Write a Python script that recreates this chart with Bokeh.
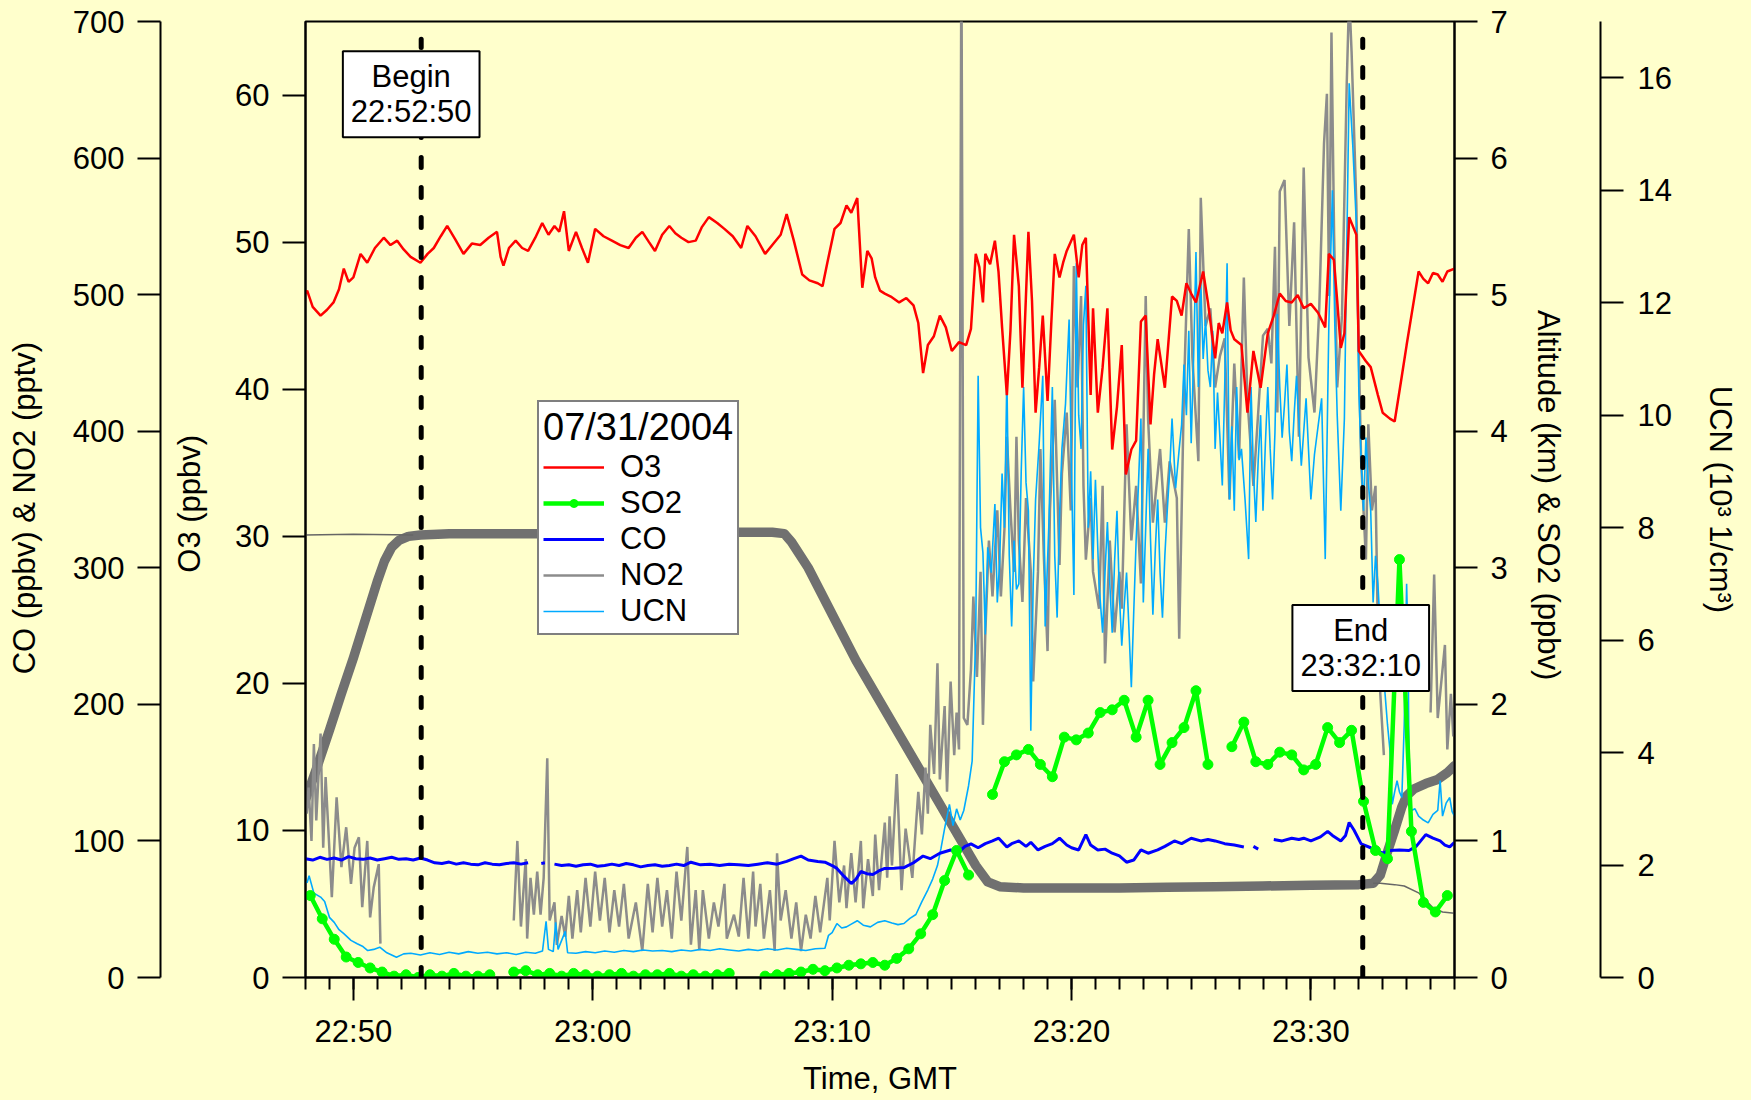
from datetime import datetime, timedelta
from bokeh.plotting import figure
from bokeh.models import (Range1d, LinearAxis, DatetimeAxis, FixedTicker, DatetimeTickFormatter,
                          Legend, LegendItem, Label)
from bokeh.embed import file_html
from bokeh.resources import INLINE

NaN = float("nan")

# ---------------- data ----------------
FLIGHT_DATE = "07/31/2004"
T_START = datetime(2004, 7, 31, 22, 48, 0)
T_END = datetime(2004, 7, 31, 23, 36, 0)
T_BEGIN = datetime(2004, 7, 31, 22, 52, 50)
T_FINISH = datetime(2004, 7, 31, 23, 32, 10)

x_tick_labels = ["22:50", "23:00", "23:10", "23:20", "23:30"]
o3_ticks = [0, 10, 20, 30, 40, 50, 60]
co_ticks = [0, 100, 200, 300, 400, 500, 600, 700]
alt_ticks = [0, 1, 2, 3, 4, 5, 6, 7]
ucn_ticks = [0, 2, 4, 6, 8, 10, 12, 14, 16]

# (minutes after 22:48:00 GMT, value)
o3_ppbv = [
    (0.0, 46.5), (0.07, 46.7), (0.3, 45.6), (0.63, 45.0), (0.9, 45.4), (1.17, 45.9), (1.4, 46.8),
    (1.6, 48.2), (1.8, 47.3), (2.0, 47.6), (2.3, 49.2), (2.58, 48.6), (2.9, 49.6), (3.27, 50.3),
    (3.55, 49.8), (3.83, 50.1), (4.1, 49.5), (4.39, 49.0), (4.8, 48.6), (5.1, 49.2), (5.36, 49.6),
    (5.65, 50.4), (5.92, 51.1), (6.25, 50.2), (6.6, 49.2), (6.95, 49.9), (7.3, 49.8), (7.65, 50.3),
    (8.0, 50.7), (8.15, 49.0), (8.27, 48.4), (8.5, 49.6), (8.78, 50.1), (9.05, 49.6), (9.3, 49.4),
    (9.6, 50.3), (9.89, 51.3), (10.15, 50.5), (10.4, 51.1), (10.6, 50.7), (10.8, 52.1), (11.0, 49.4),
    (11.3, 50.7), (11.55, 49.6), (11.8, 48.6), (12.1, 50.9), (12.45, 50.4), (12.8, 50.1), (13.15, 49.8),
    (13.5, 49.6), (13.8, 50.3), (14.07, 50.7), (14.35, 50.0), (14.6, 49.4), (14.9, 50.5), (15.2, 51.1),
    (15.45, 50.6), (15.7, 50.3), (16.0, 50.0), (16.3, 50.1), (16.55, 51.0), (16.85, 51.7), (17.2, 51.3),
    (17.5, 50.9), (17.85, 50.4), (18.2, 49.6), (18.46, 51.1), (18.8, 50.4), (19.2, 49.2), (19.5, 49.8),
    (19.85, 50.5), (20.1, 51.9), (20.4, 50.1), (20.75, 47.8), (21.05, 47.4), (21.4, 47.2), (21.6, 47.0),
    (21.8, 48.6), (22.1, 50.9), (22.35, 51.3), (22.6, 52.5), (22.8, 52.0), (23.05, 53.0), (23.26, 46.9),
    (23.47, 49.4), (23.65, 48.9), (23.8, 47.6), (24.0, 46.7), (24.2, 46.5), (24.45, 46.3), (24.8, 45.9),
    (25.1, 46.2), (25.4, 45.7), (25.6, 44.5), (25.8, 41.1), (26.0, 43.0), (26.25, 43.6), (26.5, 45.0),
    (26.75, 44.2), (27.0, 42.6), (27.3, 43.2), (27.6, 43.0), (27.8, 44.1), (28.0, 49.2), (28.15, 48.3),
    (28.3, 45.9), (28.4, 49.2), (28.6, 48.5), (28.8, 50.1), (28.95, 48.0), (29.1, 44.2), (29.3, 39.6),
    (29.45, 44.0), (29.6, 50.5), (29.8, 47.0), (29.95, 40.1), (30.2, 50.7), (30.35, 46.0), (30.5, 38.4),
    (30.65, 41.5), (30.8, 45.0), (31.0, 39.2), (31.15, 44.3), (31.3, 49.2), (31.5, 47.6), (31.65, 48.6),
    (31.8, 49.4), (32.1, 50.5), (32.3, 47.6), (32.45, 49.8), (32.6, 50.3), (32.8, 39.6), (32.9, 45.5),
    (33.1, 38.4), (33.3, 41.5), (33.5, 45.5), (33.7, 35.9), (33.9, 38.8), (34.1, 43.0), (34.27, 34.2),
    (34.5, 35.9), (34.7, 36.5), (34.9, 44.6), (35.1, 45.0), (35.3, 37.6), (35.45, 41.0), (35.6, 43.4),
    (35.9, 40.1), (36.2, 46.3), (36.4, 46.0), (36.6, 45.0), (36.8, 47.2), (37.0, 46.5), (37.2, 45.9),
    (37.5, 48.0), (37.7, 45.9), (38.0, 42.1), (38.15, 44.5), (38.3, 43.8), (38.5, 45.9), (38.65, 44.0),
    (38.8, 43.4), (39.1, 43.0), (39.35, 38.4), (39.6, 42.6), (39.9, 40.1), (40.2, 43.8), (40.45, 45.0),
    (40.7, 46.5), (40.95, 46.0), (41.2, 45.9), (41.45, 46.4), (41.7, 45.5), (42.0, 45.8), (42.3, 45.2),
    (42.6, 44.2), (42.75, 49.2), (42.96, 48.8), (43.1, 46.0), (43.25, 42.8), (43.4, 43.8), (43.6, 51.7),
    (43.9, 50.5), (44.0, 42.6), (44.3, 41.9), (44.5, 41.5), (44.8, 39.6), (45.0, 38.4), (45.3, 38.0),
    (45.5, 37.8), (45.8, 40.9), (46.0, 43.0), (46.2, 45.0), (46.5, 48.0), (46.7, 47.5), (46.9, 47.2),
    (47.1, 47.9), (47.3, 47.8), (47.5, 47.3), (47.7, 48.0), (48.0, 48.2),
]

so2_ppbv = [
    (0.2, 0.60), (0.7, 0.43), (1.2, 0.28), (1.7, 0.15), (2.2, 0.11), (2.7, 0.07), (3.2, 0.04),
    (3.7, 0.01), (4.2, 0.02), (4.7, 0.0), (5.2, 0.02), (5.7, 0.01), (6.2, 0.03), (6.7, 0.01),
    (7.2, 0.01), (7.7, 0.02), (8.2, NaN), (8.7, 0.04), (9.2, 0.05), (9.7, 0.02), (10.2, 0.03),
    (10.7, 0.01), (11.2, 0.03), (11.7, 0.02), (12.2, 0.01), (12.7, 0.02), (13.2, 0.03), (13.7, 0.01),
    (14.2, 0.02), (14.7, 0.02), (15.2, 0.03), (15.7, 0.01), (16.2, 0.02), (16.7, 0.01), (17.2, 0.02),
    (17.7, 0.03), (18.2, NaN), (18.7, NaN), (19.2, 0.01), (19.7, 0.02), (20.2, 0.03), (20.7, 0.04),
    (21.2, 0.06), (21.7, 0.05), (22.2, 0.07), (22.7, 0.09), (23.2, 0.10), (23.7, 0.11), (24.2, 0.09),
    (24.7, 0.14), (25.2, 0.21), (25.7, 0.32), (26.2, 0.46), (26.7, 0.71), (27.2, 0.93), (27.7, 0.75),
    (28.2, NaN), (28.7, 1.34), (29.2, 1.58), (29.7, 1.63), (30.2, 1.67), (30.7, 1.56), (31.2, 1.47),
    (31.7, 1.76), (32.2, 1.74), (32.7, 1.79), (33.2, 1.94), (33.7, 1.96), (34.2, 2.03), (34.7, 1.76),
    (35.2, 2.03), (35.7, 1.56), (36.2, 1.72), (36.7, 1.83), (37.2, 2.10), (37.7, 1.56), (38.2, NaN),
    (38.7, 1.69), (39.2, 1.87), (39.7, 1.58), (40.2, 1.56), (40.7, 1.65), (41.2, 1.63), (41.7, 1.52),
    (42.2, 1.56), (42.7, 1.83), (43.2, 1.72), (43.7, 1.81), (44.2, 1.29), (44.7, 0.93), (45.2, 0.87),
    (45.7, 3.06), (46.2, 1.07), (46.7, 0.55), (47.2, 0.48), (47.7, 0.60),
]

co_ppbv = [
    (0.0, 87), (0.3, 86), (0.6, 88), (0.9, 86.5), (1.2, 87.5), (1.5, 86), (1.8, 88.5), (2.1, 87),
    (2.4, 86.5), (2.7, 87.5), (3.0, 86), (3.3, 87), (3.6, 88), (3.9, 86.5), (4.2, 87), (4.5, 86),
    (4.8, 87.5), (5.1, 86), (5.4, 84), (5.7, 83.5), (6.0, 84.5), (6.3, 83), (6.6, 84), (6.9, 83),
    (7.2, 82.5), (7.5, 84), (7.8, 83), (8.1, 82.5), (8.4, 83.5), (8.7, 84), (9.0, 83), (9.3, 84),
    (9.45, NaN), (9.85, 83.5), (10.0, 84), (10.1, NaN), (10.4, 83), (10.7, 82), (11.0, 82.5),
    (11.3, 81.5), (11.6, 82.5), (11.9, 83), (12.2, 81.5), (12.5, 82), (12.8, 83), (13.1, 82),
    (13.4, 83.5), (13.7, 82.5), (14.0, 81), (14.3, 82), (14.6, 82.5), (14.9, 81.5), (15.2, 82),
    (15.5, 83), (15.8, 82), (16.1, 84.4), (16.5, 82.5), (16.9, 83), (17.3, 82), (17.7, 83),
    (18.1, 82.5), (18.5, 82), (18.9, 83), (19.3, 84), (19.7, 83), (20.1, 85), (20.4, 87),
    (20.7, 88.9), (21.0, 86), (21.4, 85), (21.7, 84.4), (22.0, 82), (22.2, 79.9), (22.5, 74),
    (22.8, 68.8), (23.0, 72), (23.2, 77.6), (23.45, 76), (23.7, 75.4), (23.95, 78), (24.2, 79.9),
    (24.6, 80), (25.0, 80.5), (25.4, 84), (25.8, 88.9), (26.1, 87), (26.5, 91), (26.95, 93.4),
    (27.3, 92), (27.55, 96), (27.8, 97.8), (28.1, 95), (28.4, 98), (28.7, 100), (28.96, 102),
    (29.3, 95.6), (29.5, 98), (29.8, 100), (30.1, 96), (30.3, 99), (30.6, 93.4), (30.9, 96),
    (31.2, 98), (31.5, 102), (31.8, 97), (32.0, 95), (32.3, 93.4), (32.6, 104.6), (32.8, 97),
    (33.1, 93.4), (33.4, 94), (33.7, 91), (34.0, 89), (34.3, 84.4), (34.6, 86), (34.9, 93.4),
    (35.2, 91), (35.6, 93.4), (35.9, 96), (36.3, 100), (36.6, 98), (37.0, 102), (37.4, 100),
    (37.7, 101), (38.0, 100), (38.4, 98), (38.8, 97), (39.2, 95.6), (39.35, NaN), (39.6, 96),
    (39.8, 94), (39.9, NaN), (40.45, 101), (40.8, 100), (41.2, 102), (41.5, 101), (41.7, 102),
    (42.0, 100), (42.4, 103), (42.7, 107), (42.9, 104), (43.25, 100), (43.45, 104), (43.6, 113.5),
    (43.8, 108), (44.1, 97.8), (44.5, 95), (45.0, 91), (45.3, 93), (45.7, 93.4), (46.1, 93),
    (46.4, 96), (46.8, 104.6), (47.1, 102), (47.4, 100), (47.6, 97), (47.8, 95.6), (48.0, 99),
]

no2_pptv = [
    (0.05, 120), (0.13, 139), (0.25, 100), (0.35, 171), (0.45, 115), (0.63, 178.6), (0.74, 95),
    (0.84, 146.7), (0.95, 110), (1.1, 58.8), (1.3, 132), (1.5, 80.8), (1.7, 110), (1.9, 68.6),
    (2.05, 95), (2.23, 102.7), (2.37, 51.5), (2.58, 100), (2.7, 44), (2.85, 66), (3.06, 83),
    (3.13, 24.8), (3.2, NaN),
    (8.7, 41.7), (8.85, 100), (9.0, 37.3), (9.2, 86.7), (9.26, 28.5), (9.4, 73), (9.54, 46),
    (9.68, 77.6), (9.82, 46), (9.95, 73), (10.1, 160.6), (10.2, 41.7), (10.4, 55), (10.5, 23.9),
    (10.7, 45), (10.85, 30), (11.0, 59.7), (11.15, 28.5), (11.35, 64), (11.5, 33), (11.7, 73),
    (11.9, 37.3), (12.1, 77.6), (12.3, 41.7), (12.5, 73), (12.7, 33), (12.9, 64), (13.1, 37.3),
    (13.3, 68.6), (13.5, 28.5), (13.8, 55), (14.07, 19.4), (14.3, 68.6), (14.5, 33), (14.7, 73),
    (14.9, 37.3), (15.1, 64), (15.3, 28.5), (15.5, 77.6), (15.7, 41.7), (15.95, 95.6), (16.1, 24),
    (16.3, 64), (16.45, 20), (16.6, 64), (16.85, 28.5), (17.06, 55), (17.25, 37.3), (17.5, 68.6),
    (17.6, 28.5), (17.9, 46), (18.1, 30), (18.3, 73), (18.5, 28.5), (18.7, 77.6), (18.8, 37.3),
    (19.0, 68.6), (19.15, 28.5), (19.4, 64), (19.6, 19.4), (19.7, 91), (19.85, 41.7), (20.06, 64),
    (20.3, 28.5), (20.5, 55), (20.7, 19.4), (20.9, 46), (21.1, 28.5), (21.3, 59.7), (21.5, 33),
    (21.8, 73), (21.9, 41.7), (22.1, 100), (22.3, 55), (22.5, 82), (22.6, 50.7), (22.8, 91),
    (22.98, 55), (23.2, 100), (23.3, 50.7), (23.5, 86.7), (23.7, 59.7), (23.8, 104.7), (23.96, 64),
    (24.2, 113.5), (24.3, 73), (24.4, 118), (24.5, 82), (24.7, 149), (24.9, 64), (25.07, 109),
    (25.35, 73), (25.6, 136), (25.75, 104.7), (25.9, 153.7), (26.0, 120), (26.1, 185), (26.26, 149),
    (26.4, 230), (26.5, 145), (26.7, 198.7), (26.8, 136), (26.95, 216.7), (27.1, 162.8), (27.2, 194),
    (27.3, 167), (27.4, 760), (27.5, 190), (27.65, 185), (27.8, 225.5), (27.9, 279), (28.05, 220),
    (28.2, 297), (28.3, 185), (28.4, 252.6), (28.55, 320), (28.7, 279), (28.9, 342), (29.05, 279),
    (29.2, 328.8), (29.3, 396), (29.45, 342), (29.6, 297), (29.7, 396), (29.8, 320), (29.95, 275),
    (30.1, 351), (30.3, 297), (30.4, 216.7), (30.6, 297), (30.7, 387), (30.85, 306), (31.0, 239),
    (31.1, 342), (31.3, 423), (31.5, 302), (31.6, 369), (31.8, 413.7), (31.97, 342), (32.1, 521),
    (32.25, 432), (32.4, 499), (32.5, 360), (32.6, 306), (32.8, 351), (32.9, 297), (33.15, 270),
    (33.3, 360), (33.4, 230), (33.6, 320), (33.8, 252.6), (34.0, 297), (34.1, 270), (34.3, 405),
    (34.5, 320), (34.7, 360), (34.9, 288.5), (35.1, 499), (35.2, 409), (35.4, 333), (35.7, 387),
    (35.9, 333), (36.1, 378), (36.4, 351), (36.5, 248), (36.7, 432), (36.9, 548), (37.05, 454),
    (37.3, 378), (37.4, 571), (37.6, 477), (37.8, 490), (38.0, 432), (38.2, 455), (38.4, 468),
    (38.6, 350), (38.8, 449.6), (39.0, 380), (39.2, 512.6), (39.35, 423), (39.6, 360), (39.8, 413.7),
    (40.0, 470), (40.2, 475), (40.35, 449.6), (40.5, 535), (40.6, 413.7), (40.7, 575.5), (40.9, 584),
    (41.1, 477), (41.3, 553), (41.5, 396), (41.7, 593), (41.9, 454), (42.15, 413.7), (42.35, 490),
    (42.55, 611), (42.67, 647), (42.76, 499), (42.86, 692), (42.97, 544), (43.1, 432), (43.3, 485),
    (43.5, 656), (43.6, 720), (43.7, 678), (43.9, 566), (44.0, 458.7), (44.1, 378), (44.3, 306),
    (44.4, 405), (44.55, 342), (44.7, 360), (44.8, 252.6), (44.9, 207.7), (45.05, 162.8), (45.2, NaN),
    (47.0, 194), (47.15, 295), (47.3, 190), (47.4, 207.7), (47.6, 243.5), (47.7, 167), (47.85, 207.7),
    (47.95, 176.5),
]

ucn_1e3_cm3 = [
    (0.0, 1.7), (0.07, 1.69), (0.15, 1.81), (0.35, 1.5), (0.63, 1.43), (0.8, 1.35), (1.0, 1.07),
    (1.2, 0.98), (1.4, 0.85), (1.6, 0.78), (1.9, 0.66), (2.16, 0.60), (2.4, 0.55), (2.6, 0.48),
    (2.85, 0.5), (3.1, 0.54), (3.4, 0.44), (3.8, 0.36), (4.1, 0.42), (4.4, 0.43), (4.8, 0.40),
    (5.2, 0.44), (5.6, 0.41), (6.0, 0.45), (6.4, 0.42), (6.8, 0.46), (7.2, 0.43), (7.6, 0.45),
    (8.0, 0.42), (8.4, 0.44), (8.8, 0.41), (9.2, 0.45), (9.6, 0.43), (9.9, 0.47), (10.05, 1.0),
    (10.15, 0.5), (10.35, 0.46), (10.45, 0.98), (10.55, 0.5), (10.85, 0.82), (10.95, 0.44),
    (11.3, 0.43), (11.7, 0.46), (12.1, 0.44), (12.5, 0.47), (12.9, 0.45), (13.3, 0.48), (13.7, 0.46),
    (14.1, 0.49), (14.5, 0.47), (14.9, 0.48), (15.3, 0.46), (15.7, 0.49), (16.1, 0.47), (16.5, 0.50),
    (16.9, 0.48), (17.3, 0.51), (17.7, 0.49), (18.1, 0.47), (18.5, 0.50), (18.9, 0.48), (19.3, 0.51),
    (19.7, 0.49), (20.1, 0.52), (20.5, 0.50), (20.9, 0.48), (21.3, 0.51), (21.7, 0.52), (21.85, 0.75),
    (22.0, 0.80), (22.2, 0.96), (22.4, 0.88), (22.6, 0.9), (22.8, 0.95), (23.05, 1.01), (23.3, 0.93),
    (23.6, 0.9), (23.9, 0.98), (24.2, 1.01), (24.5, 0.97), (24.75, 0.94), (25.0, 0.96), (25.25, 1.05),
    (25.5, 1.12), (25.75, 1.35), (26.0, 1.56), (26.2, 1.75), (26.4, 1.99), (26.55, 2.3), (26.7, 2.65),
    (26.9, 3.08), (27.05, 2.7), (27.2, 3.0), (27.35, 2.8), (27.5, 2.97), (27.7, 3.41), (27.85, 3.85),
    (28.0, 6.13), (28.1, 10.7), (28.2, 8.0), (28.3, 7.55), (28.4, 6.1), (28.5, 7.65), (28.65, 7.2),
    (28.8, 8.42), (28.9, 6.67), (29.0, 7.4), (29.1, 8.96), (29.2, 8.0), (29.3, 10.7), (29.4, 7.5),
    (29.5, 6.24), (29.6, 7.77), (29.7, 6.9), (29.8, 7.0), (29.9, 9.0), (30.0, 10.5), (30.1, 8.8),
    (30.2, 8.3), (30.3, 4.39), (30.4, 7.0), (30.5, 8.5), (30.65, 9.5), (30.8, 10.7), (30.9, 6.24),
    (31.05, 8.0), (31.2, 10.5), (31.3, 7.5), (31.4, 6.4), (31.5, 8.2), (31.6, 9.4), (31.75, 10.2),
    (31.9, 11.7), (32.0, 9.0), (32.1, 6.8), (32.2, 12.7), (32.3, 10.0), (32.4, 9.4), (32.5, 11.6),
    (32.6, 12.3), (32.7, 8.0), (32.8, 9.0), (32.9, 7.44), (33.0, 8.85), (33.15, 7.0), (33.3, 6.13),
    (33.4, 7.2), (33.5, 8.1), (33.6, 7.0), (33.7, 6.13), (33.8, 7.4), (33.9, 8.3), (34.0, 6.8),
    (34.1, 5.9), (34.2, 6.6), (34.3, 7.2), (34.4, 6.2), (34.5, 5.16), (34.6, 6.5), (34.7, 7.77),
    (34.8, 8.8), (34.9, 9.94), (35.0, 6.67), (35.1, 8.0), (35.2, 9.4), (35.3, 7.8), (35.4, 6.45),
    (35.5, 7.6), (35.6, 8.5), (35.7, 7.2), (35.8, 6.4), (35.9, 7.5), (36.0, 8.3), (36.1, 9.0),
    (36.2, 9.94), (36.35, 8.7), (36.5, 9.4), (36.6, 9.83), (36.7, 10.9), (36.8, 10.0), (36.9, 11.5),
    (37.0, 9.5), (37.1, 11.0), (37.2, 12.9), (37.3, 10.5), (37.4, 12.4), (37.5, 11.0), (37.6, 11.7),
    (37.7, 10.8), (37.8, 10.5), (37.9, 11.5), (38.0, 9.4), (38.1, 10.4), (38.2, 9.6), (38.3, 8.75),
    (38.4, 10.5), (38.5, 12.7), (38.6, 8.5), (38.7, 9.8), (38.8, 8.3), (38.9, 10.5), (39.0, 9.2),
    (39.1, 9.4), (39.25, 8.5), (39.4, 7.44), (39.5, 10.5), (39.6, 9.0), (39.7, 8.1), (39.8, 9.2),
    (39.9, 10.0), (40.0, 8.3), (40.1, 9.5), (40.2, 10.5), (40.3, 9.4), (40.4, 8.5), (40.5, 9.7),
    (40.6, 11.8), (40.7, 10.5), (40.8, 9.6), (40.9, 10.2), (41.0, 10.9), (41.1, 9.7), (41.2, 9.18),
    (41.3, 10.0), (41.4, 10.7), (41.5, 9.9), (41.6, 9.1), (41.7, 9.7), (41.8, 10.3), (41.9, 9.4),
    (42.0, 8.5), (42.15, 9.3), (42.3, 9.8), (42.45, 10.3), (42.6, 7.44), (42.75, 11.6), (42.9, 14.0),
    (43.0, 11.6), (43.1, 10.0), (43.25, 8.3), (43.4, 9.94), (43.5, 13.0), (43.6, 15.9), (43.75, 14.8),
    (43.9, 13.4), (44.0, 10.5), (44.1, 9.2), (44.2, 8.3), (44.3, 9.6), (44.4, 8.8), (44.5, 8.3),
    (44.6, 6.67), (44.7, 7.5), (44.8, 7.0), (44.9, 6.2), (45.0, 5.6), (45.1, 5.04), (45.2, 4.5),
    (45.3, 4.06), (45.4, 3.08), (45.5, 3.3), (45.6, 3.5), (45.7, 3.3), (45.8, 3.2), (45.9, 4.5),
    (46.0, 7.0), (46.05, 6.1), (46.1, 4.0), (46.2, 2.97), (46.35, 3.0), (46.5, 2.87), (46.7, 2.8),
    (46.9, 2.75), (47.1, 2.9), (47.3, 2.97), (47.4, 3.5), (47.5, 2.87), (47.65, 3.1), (47.8, 3.2),
    (47.9, 2.95), (48.0, 2.87),
]

altitude_km = [
    (0.0, 1.30), (0.5, 1.55), (1.0, 1.81), (1.5, 2.08), (2.0, 2.34), (2.5, 2.62), (3.0, 2.90),
    (3.3, 3.05), (3.6, 3.15), (3.9, 3.20), (4.3, 3.23), (4.8, 3.24), (6.0, 3.25), (8.0, 3.25),
    (10.0, 3.25), (12.0, 3.25), (14.0, 3.26), (16.0, 3.26), (18.0, 3.26), (19.5, 3.26), (20.0, 3.25),
    (20.3, 3.19), (21.0, 3.0), (22.0, 2.66), (23.0, 2.32), (24.0, 2.02), (25.0, 1.72), (26.0, 1.42),
    (27.0, 1.12), (28.0, 0.82), (28.5, 0.70), (29.0, 0.665), (30.0, 0.655), (32.0, 0.655),
    (34.0, 0.655), (36.0, 0.66), (38.0, 0.665), (40.0, 0.67), (42.0, 0.675), (44.0, 0.68),
    (44.6, 0.69), (44.9, 0.75), (45.2, 0.92), (45.5, 1.08), (45.8, 1.25), (46.0, 1.33), (46.3, 1.38),
    (46.8, 1.42), (47.3, 1.45), (47.7, 1.50), (48.0, 1.55),
]

altitude2_km = [
    (0.0, 3.24), (2.0, 3.245), (4.5, 3.24), (4.6, NaN),
    (44.6, 0.69), (44.9, 0.69), (45.5, 0.68), (45.9, 0.67), (46.5, 0.62), (47.1, 0.51),
    (47.5, 0.48), (48.0, 0.47),
]

# ---------------- helpers ----------------
FONT = "Liberation Sans"
FS = "31px"
BG = "#FFFFCC"
EPOCH = datetime(1970, 1, 1)


def ms(dt):
    return (dt - EPOCH).total_seconds() * 1000.0


def series(pairs):
    xs = [T_START + timedelta(minutes=m) for m, _ in pairs]
    ys = [v for _, v in pairs]
    return xs, ys


def style_axis(ax, ticks, label, label_standoff, tick_standoff=13):
    ax.ticker = FixedTicker(ticks=ticks)
    ax.axis_label = label
    ax.axis_label_text_font = FONT
    ax.axis_label_text_font_size = FS
    ax.axis_label_text_font_style = "normal"
    ax.axis_label_text_color = "black"
    ax.axis_label_standoff = label_standoff
    ax.major_label_text_font = FONT
    ax.major_label_text_font_size = FS
    ax.major_label_text_color = "black"
    ax.major_label_standoff = tick_standoff
    ax.major_tick_out = 23
    ax.major_tick_in = 0
    ax.minor_tick_out = 0
    ax.minor_tick_in = 0
    ax.axis_line_color = "black"
    ax.axis_line_width = 2
    ax.major_tick_line_color = "black"
    ax.major_tick_line_width = 2


def spacer(range_name, gap):
    # invisible axis that only reserves horizontal room between two real axes
    return LinearAxis(y_range_name=range_name, ticker=FixedTicker(ticks=[0]),
                      major_label_overrides={0: ""},
                      major_tick_out=gap, major_tick_in=0, minor_tick_out=0, minor_tick_in=0,
                      axis_line_color=None, major_tick_line_color=BG, minor_tick_line_color=None,
                      major_label_standoff=0, major_label_text_font_size="1px",
                      major_label_text_color=BG)


# ---------------- figure ----------------
p = figure(width=1749, height=1098, x_axis_type="datetime",
           x_range=Range1d(T_START, T_END), y_range=Range1d(0, 65),
           output_backend="svg", toolbar_location=None,
           min_border_left=305, min_border_right=295, min_border_top=21, min_border_bottom=121)
p.extra_y_ranges = {"co": Range1d(0, 700), "alt": Range1d(0, 7), "ucn": Range1d(0, 17)}
p.grid.visible = False
p.background_fill_color = BG
p.border_fill_color = BG
p.outline_line_color = "black"
p.outline_line_width = 2

# x axis
xa = p.xaxis[0]
major_x = [ms(datetime.strptime("2004-07-31 " + s, "%Y-%m-%d %H:%M")) for s in x_tick_labels]
minor_x = [ms(T_START + timedelta(minutes=i)) for i in range(49)]
five_x = [ms(T_START + timedelta(minutes=i)) for i in range(2, 49, 5)]
style_axis(xa, major_x, "Time, GMT", 9, tick_standoff=13)
xa.ticker = FixedTicker(ticks=major_x, minor_ticks=minor_x)
xa.formatter = DatetimeTickFormatter(minutes="%H:%M", hourmin="%H:%M", hours="%H:%M",
                                     minsec="%H:%M", seconds="%H:%M")
xa.minor_tick_out = 12
xa.minor_tick_line_color = "black"
xa.minor_tick_line_width = 2

# medium ticks every 5 minutes, drawn at the bottom edge of the frame
mid_axis = DatetimeAxis(fixed_location=0, ticker=FixedTicker(ticks=five_x),
                        major_tick_out=18, major_tick_in=0, minor_tick_out=0, minor_tick_in=0,
                        major_tick_line_color="black", major_tick_line_width=2,
                        axis_line_color=None, major_label_text_color=None)
p.add_layout(mid_axis, "below")

# O3 (left, next to frame)
o3_axis = p.yaxis[0]
style_axis(o3_axis, o3_ticks, "O3  (ppbv)", 25)

p.add_layout(spacer("co", 9), "left")
co_axis = LinearAxis(y_range_name="co")
style_axis(co_axis, co_ticks, "CO  (ppbv) & NO2  (pptv)", 28)
p.add_layout(co_axis, "left")

alt_axis = LinearAxis(y_range_name="alt")
style_axis(alt_axis, alt_ticks, "Altitude  (km) & SO2 (ppbv)", 20)
p.add_layout(alt_axis, "right")
p.add_layout(spacer("alt", 32), "right")
ucn_axis = LinearAxis(y_range_name="ucn")
style_axis(ucn_axis, ucn_ticks, "UCN (10\u00b3 1/cm\u00b3)", 28, tick_standoff=14)
p.add_layout(ucn_axis, "right")

# ---------------- series ----------------
ax_, ay_ = series(altitude_km)
r_alt = p.line(ax_, ay_, y_range_name="alt", line_color="#707070", line_width=9.5,
               line_join="round", line_cap="round")
a2x, a2y = series(altitude2_km)
p.line(a2x, a2y, y_range_name="alt", line_color="#666666", line_width=1.5)

nx, ny = series(no2_pptv)
r_no2 = p.line(nx, ny, y_range_name="co", line_color="#8C8C8C", line_width=2.5)

ux, uy = series(ucn_1e3_cm3)
r_ucn = p.line(ux, uy, y_range_name="ucn", line_color="#00AAFF", line_width=1.6)

cx, cy = series(co_ppbv)
r_co = p.line(cx, cy, y_range_name="co", line_color="#0000FF", line_width=3)

sx, sy = series(so2_ppbv)
r_so2_l = p.line(sx, sy, y_range_name="alt", line_color="#00FF00", line_width=4.5)
r_so2_m = p.scatter(sx, sy, y_range_name="alt", marker="circle", size=10,
                    fill_color="#00FF00", line_color="#00FF00")

ox, oy = series(o3_ppbv)
r_o3 = p.line(ox, oy, line_color="#FF0000", line_width=2.5)

# begin / end dashed markers
p.segment(x0=[T_BEGIN, T_FINISH], y0=[0, 0], x1=[T_BEGIN, T_FINISH], y1=[63.8, 63.8],
          line_color="black", line_width=5, line_dash="10 20", line_cap="round")

for t, word, yv, dx in [(T_BEGIN, "Begin", 60.05, -10), (T_FINISH, "End", 22.4, -2)]:
    p.add_layout(Label(x=ms(t), y=yv, x_offset=dx, text=word + "\n" + t.strftime("%H:%M:%S"),
                       text_font=FONT, text_font_size=FS, text_color="black",
                       text_align="center", text_baseline="middle", text_line_height=1.0,
                       background_fill_color="white", background_fill_alpha=1.0,
                       border_line_color="black", border_line_width=2, padding=8))

legend = Legend(items=[
    LegendItem(label="O3", renderers=[r_o3]),
    LegendItem(label="SO2", renderers=[r_so2_l, r_so2_m]),
    LegendItem(label="CO", renderers=[r_co]),
    LegendItem(label="NO2", renderers=[r_no2]),
    LegendItem(label="UCN", renderers=[r_ucn]),
], location=(232, 342), title=FLIGHT_DATE,
    title_text_font=FONT, title_text_font_size="38px", title_text_font_style="normal",
    title_text_color="black", title_standoff=0,
    label_text_font=FONT, label_text_font_size=FS, label_text_color="black",
    glyph_width=61, glyph_height=20, label_height=20, label_standoff=16,
    spacing=0, padding=4, margin=0,
    border_line_color="black", border_line_width=2,
    background_fill_color="white", background_fill_alpha=1.0)
p.add_layout(legend)

html = file_html(p, INLINE).replace("<body>", '<body style="background-color:#FFFFCC;">')
open("out.html", "w").write(html)
